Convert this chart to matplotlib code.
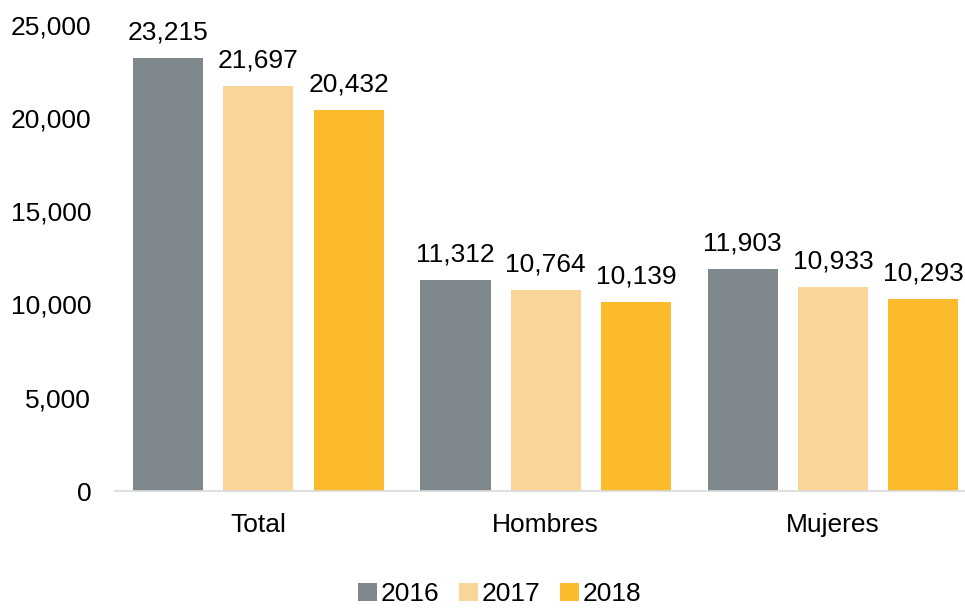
import matplotlib
matplotlib.use("Agg")
import matplotlib.pyplot as plt
import numpy as np

categories = ["Total", "Hombres", "Mujeres"]
years = ["2016", "2017", "2018"]
v2016 = [23215, 11312, 11903]
v2017 = [21697, 10764, 10933]
v2018 = [20432, 10139, 10293]
colors = ["#7F888D", "#F9D597", "#FBBB2A"]

plt.rcParams['font.family'] = ['Liberation Sans', 'DejaVu Sans']
fs = 19

fig = plt.figure(figsize=(9.65, 6.08), dpi=100)
ax = fig.add_axes([0.119, 0.1924, 0.881, 0.7673])

x = np.arange(len(categories))
width = 0.244
step = 0.314
for i, (vals, yr) in enumerate(zip([v2016, v2017, v2018], years)):
    bars = ax.bar(x + (i - 1) * step, vals, width, color=colors[i], label=yr)
    for b, v in zip(bars, vals):
        ax.annotate(f"{v:,}", (b.get_x() + b.get_width() / 2, v),
                    xytext=(0, 9.5), textcoords="offset points",
                    ha="center", va="bottom", fontsize=fs)

ax.set_xlim(-0.5, 2.46)
ax.set_ylim(0, 25000)
ax.set_yticks(np.arange(0, 25001, 5000))
ax.set_yticklabels([f"{t:,}" for t in range(0, 25001, 5000)])
ax.set_xticks(x)
ax.set_xticklabels(categories)
ax.tick_params(axis="both", length=0, labelsize=fs)
ax.tick_params(axis="x", pad=16)
ax.tick_params(axis="y", pad=17)
for s in ["top", "right", "left"]:
    ax.spines[s].set_visible(False)
ax.spines["bottom"].set_color("#D9D9D9")
ax.spines["bottom"].set_linewidth(1.2)

fig.legend(loc="lower center", bbox_to_anchor=(0.518, -0.036), ncol=3, frameon=False,
           fontsize=fs, handlelength=0.7, handleheight=0.7, handletextpad=0.15,
           columnspacing=0.75)

fig.savefig("out.png", dpi=100)
